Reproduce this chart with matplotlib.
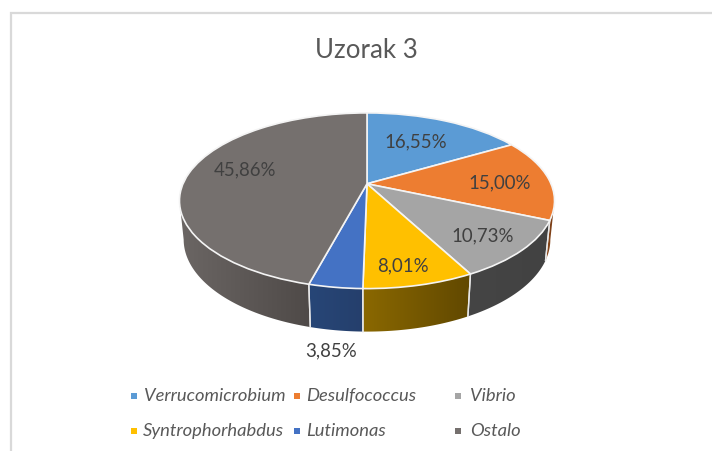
import numpy as np
import matplotlib
matplotlib.use("Agg")
import matplotlib.pyplot as plt
from matplotlib.transforms import Transform
from matplotlib.patches import Polygon, Rectangle

title = "Uzorak 3"
categories = ["Verrucomicrobium", "Desulfococcus", "Vibrio", "Syntrophorhabdus", "Lutimonas", "Ostalo"]
values = [16.55, 15.00, 10.73, 8.01, 3.85, 45.86]
value_labels = ["16,55%", "15,00%", "10,73%", "8,01%", "3,85%", "45,86%"]
colors = ["#5B9BD5", "#ED7D31", "#A5A5A5", "#FFC000", "#4472C4", "#75706E"]
side_left = ["#37608a", "#8f4a1c", "#454545", "#8a6800", "#274677", "#6b6664"]
side_right = ["#37608a", "#6e3814", "#424242", "#614800", "#253f6c", "#4f4a48"]
label_xy = [(416, 142), (500, 183), (483, 236), (403, 266), (331, 351), (245, 170)]
legend_xy = [(144, 396), (306, 396), (470, 396), (143, 431), (306, 431), (470, 431)]
marker_xy = [(134, 397), (297, 397), (458, 397), (134, 432), (297, 432), (458, 432)]


class Perspective(Transform):
    input_dims = 2
    output_dims = 2
    is_separable = False
    has_inverse = False

    def __init__(self, cx, a, b, c, d):
        super().__init__()
        self.cx, self.a, self.b, self.c, self.d = cx, a, b, c, d

    def transform_non_affine(self, xy):
        xy = np.asarray(xy, dtype=float)
        u, v = xy[:, 0], xy[:, 1]
        w = self.c * v + 1
        return np.column_stack([self.cx + self.d * u / w, (self.a * v + self.b) / w])


top_plane = Perspective(367, -48.9, 184.8, 0.193, 184)
bottom_plane = Perspective(367, -46.4, 223, 0.19, 180)

plt.rcParams["font.family"] = ["Lato", "DejaVu Sans"]
fig = plt.figure(figsize=(7.12, 4.52), dpi=100, facecolor="white")
ax = fig.add_axes([0, 0, 1, 1])

wedges, _ = ax.pie(values, colors=colors, startangle=90, counterclock=False,
                   wedgeprops=dict(edgecolor="#f4f4f4", linewidth=1.2))
for w in wedges:
    w.set_transform(top_plane + ax.transData)
    w.set_zorder(3)

edges = np.concatenate([[0], np.cumsum(values)]) / sum(values) * 360
vis_lo, vis_hi = 101.0, 259.0
for i in range(len(values)):
    lo, hi = max(edges[i], vis_lo), min(edges[i + 1], vis_hi)
    if hi <= lo:
        continue
    th = np.radians(np.linspace(lo, hi, 60))
    unit = np.column_stack([np.sin(th), np.cos(th)])
    t, b = top_plane.transform(unit), bottom_plane.transform(unit)
    poly_xy = np.vstack([t, b[::-1]])
    x0, x1 = poly_xy[:, 0].min(), poly_xy[:, 0].max()
    c_left = np.array(matplotlib.colors.to_rgb(side_left[i]))
    c_right = np.array(matplotlib.colors.to_rgb(side_right[i]))
    ramp = np.linspace(0, 1, 64)[:, None]
    grad = (c_left * (1 - ramp) + c_right * ramp)[None, :, :]
    poly = Polygon(poly_xy, closed=True, facecolor="none", edgecolor="none", transform=ax.transData)
    ax.add_patch(poly)
    im = ax.imshow(grad, extent=(x0, x1, poly_xy[:, 1].max(), poly_xy[:, 1].min()),
                   aspect="auto", zorder=1, interpolation="bilinear")
    im.set_clip_path(poly)
    for k in (0, -1):
        if (k == 0 and edges[i] >= vis_lo) or (k == -1 and edges[i + 1] <= vis_hi):
            ax.plot([t[k, 0], b[k, 0]], [t[k, 1], b[k, 1]], color="#e8e8e8", lw=1.0, zorder=2)

ax.set_xlim(0, 712)
ax.set_ylim(452, 0)
ax.set_aspect("auto")
ax.axis("off")

for (x, y), s in zip(label_xy, value_labels):
    ax.text(x, y, s, ha="center", va="center", fontsize=13.4, color="#404040", zorder=5)

ax.text(366, 50, title, ha="center", va="center", fontsize=18.6, color="#595959", zorder=5)

for (x, y), name in zip(legend_xy, categories):
    ax.text(x, y, name, ha="left", va="center", fontsize=13.2, style="italic", color="#595959", zorder=5)
for (x, y), c in zip(marker_xy, colors):
    ax.add_patch(Rectangle((x - 3, y - 3), 6, 6, facecolor=c, edgecolor="none", zorder=5))

ax.plot([11, 11, 712], [452, 13.5, 13.5], color="#d9d9d9", lw=1.6, zorder=0, solid_joinstyle="miter")

fig.savefig("out.png", dpi=100, facecolor="white")
